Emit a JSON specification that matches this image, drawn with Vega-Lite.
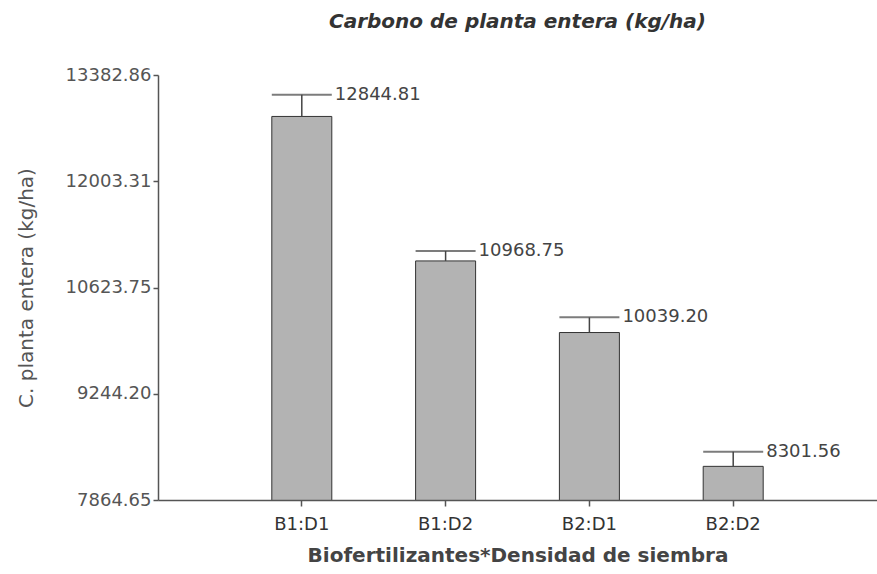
{
  "$schema": "https://vega.github.io/schema/vega-lite/v6.json",
  "autosize": "none",
  "width": 719,
  "height": 425,
  "padding": {"left": 158, "top": 75, "right": 0, "bottom": 74},
  "background": "white",
  "title": {
    "text": "Carbono de planta entera (kg/ha)",
    "font": "DejaVu Sans",
    "fontSize": 20,
    "fontStyle": "italic",
    "fontWeight": "bold",
    "color": "#333333",
    "anchor": "middle",
    "offset": 34
  },
  "data": {
    "values": [
      {"grupo": "B1:D1", "media": 12844.81, "sup": 13125},
      {"grupo": "B1:D2", "media": 10968.75, "sup": 11098},
      {"grupo": "B2:D1", "media": 10039.20, "sup": 10236},
      {"grupo": "B2:D2", "media": 8301.56, "sup": 8492}
    ]
  },
  "config": {
    "view": {"stroke": null},
    "font": "DejaVu Sans"
  },
  "encoding": {
    "x": {
      "field": "grupo",
      "type": "nominal",
      "sort": null,
      "scale": {"paddingInner": 0, "paddingOuter": 0.5},
      "axis": {
        "title": "Biofertilizantes*Densidad de siembra",
        "titleFont": "DejaVu Sans",
        "titleFontSize": 20,
        "titleFontWeight": "bold",
        "titleColor": "#444444",
        "titlePadding": 12,
        "labelFont": "DejaVu Sans",
        "labelFontSize": 18,
        "labelColor": "#333333",
        "labelAngle": 0,
        "labelPadding": 9,
        "domainColor": "#555555",
        "domainWidth": 1.5,
        "tickColor": "#555555",
        "tickWidth": 1.5,
        "tickSize": 6,
        "grid": false,
        "zindex": 1
      }
    }
  },
  "layer": [
    {
      "mark": {"type": "bar", "size": 60, "fill": "#b3b3b3", "stroke": "#333333", "strokeWidth": 1, "clip": true},
      "encoding": {
        "y": {
          "field": "media",
          "type": "quantitative",
          "scale": {"domain": [7864.65, 13382.86], "nice": false, "zero": false},
          "axis": {
            "title": "C. planta entera (kg/ha)",
            "titleFont": "DejaVu Sans",
            "titleFontSize": 20,
            "titleFontWeight": "normal",
            "titleColor": "#555555",
            "titlePadding": 29,
            "values": [7864.65, 9244.20, 10623.75, 12003.31, 13382.86],
            "format": ".2f",
            "labelFont": "DejaVu Sans",
            "labelFontSize": 18,
            "labelColor": "#555555",
            "labelPadding": 2,
            "domainColor": "#555555",
            "domainWidth": 1.5,
            "tickColor": "#555555",
            "tickWidth": 1.5,
            "tickSize": 5,
            "grid": false,
            "zindex": 1
          }
        }
      }
    },
    {
      "mark": {"type": "rule", "color": "#444444", "strokeWidth": 1.5},
      "encoding": {
        "y": {"field": "media", "type": "quantitative"},
        "y2": {"field": "sup"}
      }
    },
    {
      "mark": {"type": "tick", "color": "#444444", "thickness": 2, "size": 60},
      "encoding": {
        "y": {"field": "sup", "type": "quantitative"}
      }
    },
    {
      "mark": {"type": "text", "align": "left", "baseline": "middle", "dx": 33, "fontSize": 18, "color": "#444444", "font": "DejaVu Sans"},
      "encoding": {
        "y": {"field": "sup", "type": "quantitative"},
        "text": {"field": "media", "type": "quantitative", "format": ".2f"}
      }
    }
  ]
}
